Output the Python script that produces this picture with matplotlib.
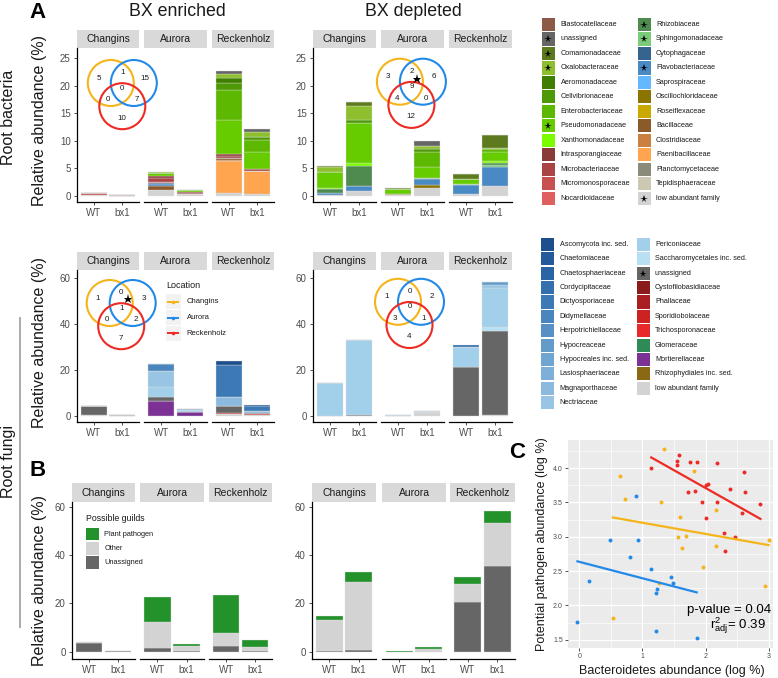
import numpy as np
import matplotlib
matplotlib.use("Agg")
import matplotlib.pyplot as plt
from matplotlib.patches import Rectangle, Circle

plt.rcParams['font.family'] = ['Liberation Sans', 'DejaVu Sans']
plt.rcParams['mathtext.fontset'] = 'custom'
plt.rcParams['mathtext.rm'] = 'Liberation Sans'
plt.rcParams['mathtext.it'] = 'Liberation Sans:italic'

W, H = 778, 678
fig = plt.figure(figsize=(W / 100, H / 100), dpi=100)

# ---------------- data ----------------
locations = ["Changins", "Aurora", "Reckenholz"]
genotypes = ["WT", "bx1"]

bact_families = ["Blastocatellaceae", "unassigned", "Comamonadaceae", "Oxalobacteraceae",
                 "Aeromonadaceae", "Cellvibrionaceae", "Enterobacteriaceae", "Pseudomonadaceae",
                 "Xanthomonadaceae", "Intrasporangiaceae", "Microbacteriaceae", "Micromonosporaceae",
                 "Nocardioidaceae", "Rhizobiaceae", "Sphingomonadaceae", "Cytophagaceae",
                 "Flavobacteriaceae", "Saprospiraceae", "Oscillochloridaceae", "Roseiflexaceae",
                 "Bacillaceae", "Clostridiaceae", "Paenibacillaceae", "Planctomycetaceae",
                 "Tepidisphaeraceae", "low abundant family"]
bact_colors = ["#8E5A48", "#666666", "#5E7A1F", "#8DBF2E", "#3F7F00", "#4E9A06", "#5CB800",
               "#66CC00", "#7CFC00", "#8B3A3A", "#A94545", "#C75050", "#E06060", "#4F8A4F",
               "#7ACB7A", "#35658F", "#4A8AC4", "#63B8FF", "#8B7500", "#C9A800", "#8B5A2B",
               "#C98040", "#FFA54F", "#8B8B7A", "#CDC8B1", "#D3D3D3"]
bact_starred = ["unassigned", "Comamonadaceae", "Oxalobacteraceae", "Pseudomonadaceae",
                "Rhizobiaceae", "Sphingomonadaceae", "Flavobacteriaceae", "low abundant family"]

fungi_families = ["Ascomycota inc. sed.", "Chaetomiaceae", "Chaetosphaeriaceae", "Cordycipitaceae",
                  "Dictyosporiaceae", "Didymellaceae", "Herpotrichiellaceae", "Hypocreaceae",
                  "Hypocreales inc. sed.", "Lasiosphaeriaceae", "Magnaporthaceae", "Nectriaceae",
                  "Periconiaceae", "Saccharomycetales inc. sed.", "unassigned", "Cystofilobasidiaceae",
                  "Phallaceae", "Sporidiobolaceae", "Trichosporonaceae", "Glomeraceae",
                  "Mortierellaceae", "Rhizophydiales inc. sed.", "low abundant family"]
fungi_colors = ["#1F4E8C", "#245A9A", "#2B64A5", "#356FAE", "#3D79B5", "#4A85BD", "#5690C4",
                "#639BCB", "#70A5D1", "#7DAFD8", "#8BBADE", "#98C5E4", "#A2CFEA", "#B8E0F2",
                "#666666", "#8B1A1A", "#AA1E23", "#CC2222", "#E8282A", "#2E8B57", "#7B3294",
                "#8B6914", "#D3D3D3"]
fungi_starred = ["unassigned"]

# bar order: Changins WT, Changins bx1, Aurora WT, Aurora bx1, Reckenholz WT, Reckenholz bx1
bact_enriched = {
    "unassigned":          [0, 0, 0, 0, 0.6, 0.6],
    "Oxalobacteraceae":    [0, 0, 0.1, 0, 0.6, 0.9],
    "Aeromonadaceae":      [0, 0, 0, 0, 1.0, 0],
    "Cellvibrionaceae":    [0, 0, 0, 0, 1.2, 0.5],
    "Enterobacteriaceae":  [0, 0, 0, 0, 5.4, 2.2],
    "Pseudomonadaceae":    [0, 0, 0.6, 0.2, 6.2, 3.2],
    "Intrasporangiaceae":  [0, 0, 0.4, 0.3, 0.3, 0],
    "Microbacteriaceae":   [0, 0, 0.6, 0.2, 0.4, 0.3],
    "Micromonosporaceae":  [0.5, 0.12, 0, 0, 0, 0],
    "Nocardioidaceae":     [0, 0, 0.3, 0, 0, 0],
    "Cytophagaceae":       [0, 0, 0.2, 0, 0, 0],
    "Flavobacteriaceae":   [0, 0, 0.3, 0, 0, 0],
    "Bacillaceae":         [0, 0, 0.8, 0, 0.4, 0],
    "Clostridiaceae":      [0, 0, 0, 0, 0.2, 0],
    "Paenibacillaceae":    [0, 0, 0, 0, 5.7, 4.2],
    "low abundant family": [0.1, 0.03, 1.0, 0.3, 0.6, 0.3],
}
bact_depleted = {
    "unassigned":          [0, 0, 0, 1.0, 0, 0],
    "Comamonadaceae":      [0.3, 0.8, 0.3, 0, 0.9, 2.4],
    "Oxalobacteraceae":    [0.8, 2.5, 0, 0.5, 0, 0.2],
    "Cellvibrionaceae":    [0, 0.6, 0, 0.6, 0, 0],
    "Enterobacteriaceae":  [0, 0, 0, 2.6, 0, 0.6],
    "Pseudomonadaceae":    [3.0, 7.2, 0.8, 2.0, 0.9, 1.5],
    "Xanthomonadaceae":    [0.2, 0.6, 0, 0, 0, 0.5],
    "Rhizobiaceae":        [0.6, 3.6, 0, 0, 0, 0.3],
    "Sphingomonadaceae":   [0, 0, 0, 0.3, 0.2, 0.3],
    "Flavobacteriaceae":   [0.4, 0.9, 0, 1.1, 1.6, 3.5],
    "Oscillochloridaceae": [0, 0, 0.2, 0.5, 0, 0],
    "low abundant family": [0.2, 0.9, 0.2, 1.4, 0.4, 1.8],
}
fungi_enriched = {
    "Ascomycota inc. sed.": [0, 0, 0, 0, 1.6, 0.4],
    "Dictyosporiaceae":     [0, 0, 0, 0, 13.8, 2.3],
    "Didymellaceae":        [0, 0, 3.1, 0, 0, 0],
    "Hypocreaceae":         [0, 0, 0, 0.7, 0, 0],
    "Magnaporthaceae":      [0, 0, 0, 0, 3.8, 0.9],
    "Nectriaceae":          [0, 0, 6.8, 0, 0, 0],
    "Periconiaceae":        [0, 0, 4.3, 0.6, 0, 0],
    "unassigned":           [3.8, 0.4, 1.9, 0.3, 3.0, 0.3],
    "Sporidiobolaceae":     [0, 0, 0, 0, 0.6, 0.5],
    "Mortierellaceae":      [0, 0, 6.5, 1.6, 0, 0],
    "low abundant family":  [0.4, 0, 0, 0, 0.9, 0.5],
}
fungi_depleted = {
    "Cordycipitaceae":             [0, 0, 0, 0, 1.1, 0],
    "Hypocreaceae":                [0, 0, 0, 0, 0, 1.3],
    "Nectriaceae":                 [0, 0, 0, 0, 0, 1.2],
    "Periconiaceae":               [14.5, 32.3, 0.4, 0.6, 8.5, 16.7],
    "Saccharomycetales inc. sed.": [0, 0, 0, 0, 0, 2.0],
    "unassigned":                  [0, 0.5, 0, 0, 21.2, 36.3],
    "low abundant family":         [0, 0, 0, 1.6, 0, 0.5],
}

guild_names = ["Plant pathogen", "Other", "Unassigned"]
guild_colors = ["#23922B", "#D3D3D3", "#666666"]
guild_enriched = {
    "Plant pathogen": [0, 0, 10.1, 0.8, 15.7, 3.0],
    "Other":          [0.2, 0.1, 11.0, 2.0, 5.4, 1.3],
    "Unassigned":     [3.7, 0.3, 1.4, 0.4, 2.5, 0.5],
}
guild_depleted = {
    "Plant pathogen": [1.3, 4.1, 0.2, 0.9, 2.7, 4.7],
    "Other":          [13.0, 28.2, 0.1, 1.0, 7.5, 17.8],
    "Unassigned":     [0.3, 0.6, 0, 0.1, 20.7, 35.5],
}

# Venn counts: C only, C&A, A only, all three, C&R, A&R, R only
venn_bact_enriched = [5, 1, 15, 0, 0, 7, 10]
venn_bact_depleted = [3, 2, 6, 9, 4, 0, 12]
venn_fungi_enriched = [1, 0, 3, 1, 0, 2, 7]
venn_fungi_depleted = [1, 0, 2, 0, 3, 1, 4]

loc_colors = {"Changins": "#F4B41A", "Aurora": "#2389E8", "Reckenholz": "#EE2A24"}

# Panel C data
red_x = [1.14, 1.58, 1.55, 1.55, 1.76, 1.86, 2.18, 2.61, 1.73, 1.83, 2.01, 2.04, 2.39, 2.62,
         1.95, 2.19, 2.58, 2.87, 2.00, 2.29, 2.47, 2.31]
red_y = [4.00, 4.19, 4.10, 4.05, 4.09, 4.09, 4.07, 3.94, 3.65, 3.66, 3.76, 3.77, 3.69, 3.65,
         3.50, 3.50, 3.34, 3.48, 3.28, 3.05, 3.00, 2.80]
orange_x = [1.34, 0.65, 0.73, 1.29, 1.82, 2.17, 1.59, 1.56, 1.69, 1.63, 2.16, 1.96, 3.00, 0.53,
            2.95, 1.27]
orange_y = [4.28, 3.89, 3.55, 3.51, 3.96, 3.39, 3.29, 3.00, 3.01, 2.83, 2.86, 2.56, 2.95, 1.81,
            2.29, 2.32]
blue_x = [-0.03, 0.15, 0.48, 0.90, 0.93, 0.81, 1.13, 1.45, 1.48, 1.23, 1.21, 1.21, 1.86]
blue_y = [1.76, 2.36, 2.95, 3.60, 2.95, 2.70, 2.53, 2.41, 2.33, 2.24, 2.18, 1.63, 1.52]
# fitted lines (intercept, slope)
red_fit = (4.745, -0.517)
orange_fit = (3.368, -0.163)
blue_fit = (2.635, -0.239)

# ---------------- helpers ----------------
def px_axes(x0, y0, x1, y1, **kw):
    return fig.add_axes([x0 / W, 1 - y1 / H, (x1 - x0) / W, (y1 - y0) / H], **kw)

ov = fig.add_axes([0, 0, 1, 1])
ov.set_xlim(0, W)
ov.set_ylim(H, 0)
ov.axis('off')
ov.set_zorder(20)
ov.patch.set_alpha(0)

TXT = "#1A1A1A"
TICKC = "#4D4D4D"


def draw_group(facets, strip_y0, y0, y1, data, families, colors, ylim, yticks):
    cmap = dict(zip(families, colors))
    for i, (x0, x1) in enumerate(facets):
        st = px_axes(x0, strip_y0, x1, y0)
        st.set_facecolor("#D9D9D9")
        st.set_xticks([]); st.set_yticks([])
        for s in st.spines.values():
            s.set_visible(False)
        st.text(0.5, 0.5, locations[i], ha='center', va='center', fontsize=7.5, color=TXT,
                transform=st.transAxes)
        ax = px_axes(x0, y0, x1, y1)
        bottoms = np.zeros(2)
        for fam in reversed(families):
            if fam not in data:
                continue
            v = np.array(data[fam][2 * i:2 * i + 2], dtype=float)
            ax.bar([1, 2], v, 0.9, bottom=bottoms, color=cmap[fam], edgecolor="#E2E2E2",
                   linewidth=0.25)
            bottoms += v
        ax.set_xlim(0.4, 2.6)
        ax.set_ylim(*ylim)
        ax.set_xticks([1, 2])
        ax.set_xticklabels(genotypes)
        ax.set_yticks(yticks)
        ax.spines['top'].set_visible(False)
        ax.spines['right'].set_visible(False)
        ax.spines['bottom'].set_linewidth(0.9)
        ax.spines['left'].set_linewidth(0.9)
        ax.tick_params(length=2.5, width=0.6, color="#333333", labelsize=7, labelcolor=TICKC, pad=2)
        if i > 0:
            ax.spines['left'].set_visible(False)
            ax.tick_params(left=False, labelleft=False)


def draw_venn(mx, my, counts, star=None):
    r = 23
    for (dx, dy), c in zip([(-11.5, 0), (11.5, 0), (0, 23.2)],
                           [loc_colors["Changins"], loc_colors["Aurora"], loc_colors["Reckenholz"]]):
        ov.add_patch(Circle((mx + dx, my + dy), r, fill=False, edgecolor=c, linewidth=1.5))
    offs = [(-23.3, -5), (0, -10.3), (22.8, -5), (0, 5), (-14.5, 16.3), (14.5, 16.3), (0, 35)]
    for (dx, dy), n in zip(offs, counts):
        ov.text(mx + dx, my + dy, str(n), ha='center', va='center', fontsize=5.8, color=TXT)
    if star is not None:
        ov.plot(mx + star[0], my + star[1], marker='*', color='black', ms=6.5, mew=0)


# ---------------- Panel A bacteria ----------------
bact_ylim = (-1.1, 26.8)
draw_group([(77, 139), (144, 207), (212, 274)], 30, 48, 202, bact_enriched,
           bact_families, bact_colors, bact_ylim, [0, 5, 10, 15, 20, 25])
draw_group([(313, 376), (381, 444), (449, 512)], 30, 48, 202, bact_depleted,
           bact_families, bact_colors, bact_ylim, [0, 5, 10, 15, 20, 25])

# ---------------- Panel A fungi ----------------
fungi_ylim = (-2.6, 63.3)
draw_group([(77, 139), (144, 207), (212, 274)], 252, 270, 422, fungi_enriched,
           fungi_families, fungi_colors, fungi_ylim, [0, 20, 40, 60])
draw_group([(313, 376), (381, 444), (449, 512)], 252, 270, 422, fungi_depleted,
           fungi_families, fungi_colors, fungi_ylim, [0, 20, 40, 60])

# ---------------- Panel B guilds ----------------
guild_ylim = (-3.0, 61.9)
draw_group([(72, 135), (140, 204), (209, 272)], 483, 502, 659, guild_enriched,
           guild_names, guild_colors, guild_ylim, [0, 20, 40, 60])
draw_group([(312, 376), (382, 446), (450, 515)], 483, 502, 659, guild_depleted,
           guild_names, guild_colors, guild_ylim, [0, 20, 40, 60])

# Venn diagrams
draw_venn(122.3, 83, venn_bact_enriched)
draw_venn(411.4, 81.7, venn_bact_depleted, star=(5.3, -2.4))
draw_venn(121.2, 303, venn_fungi_enriched, star=(7.1, -3.7))
draw_venn(409.5, 301.8, venn_fungi_depleted)

# Location legend
ov.text(166, 285, "Location", ha='left', va='center', fontsize=6.5, color=TXT)
for k, loc in enumerate(locations):
    yc = 301.7 + k * 15.8
    ov.add_patch(Rectangle((166, yc - 7.5), 15, 15, facecolor="#F2F2F2", edgecolor='none'))
    ov.plot([167.5, 179.5], [yc, yc], color=loc_colors[loc], lw=1.4, solid_capstyle='butt')
    ov.plot([173.5], [yc], marker='o', ms=2.6, color=loc_colors[loc], mew=0)
    ov.text(186.5, yc, loc, ha='left', va='center', fontsize=5.5, color=TXT)

# Guild legend
ov.text(86, 518.7, "Possible guilds", ha='left', va='center', fontsize=6.3, color=TXT)
for k, (g, c) in enumerate(zip(guild_names, guild_colors)):
    yc = 534 + k * 14.3
    ov.add_patch(Rectangle((86, yc - 6.4), 13.3, 12.8, facecolor=c, edgecolor='none'))
    ov.text(104.3, yc, g, ha='left', va='center', fontsize=5.3, color=TXT)

# Family legends
def family_legend(families, colors, starred, y_first, step, ncol1, cols):
    for k, (fam, c) in enumerate(zip(families, colors)):
        col = 0 if k < ncol1 else 1
        row = k if k < ncol1 else k - ncol1
        kx, lx = cols[col]
        yc = y_first + row * step
        ov.add_patch(Rectangle((kx, yc - 6.6), 13.3, 13.2, facecolor=c, edgecolor='none'))
        if fam in starred:
            ov.plot(kx + 6.65, yc + 0.5, marker='*', color='black', ms=5.5, mew=0)
        ov.text(lx, yc, fam, ha='left', va='center', fontsize=5.2, color=TXT)

family_legend(bact_families, bact_colors, bact_starred, 24.5, 14.47, 13,
              [(541.7, 560.5), (637.7, 656)])
family_legend(fungi_families, fungi_colors, fungi_starred, 244.3, 14.4, 12,
              [(541, 559.7), (636.7, 655)])

# ---------------- Panel C ----------------
axC = px_axes(568, 440, 773, 648)
axC.set_facecolor("#EBEBEB")
axC.set_xlim(-0.18, 3.07)
axC.set_ylim(1.38, 4.41)
axC.set_xticks([0, 1, 2, 3])
axC.set_yticks([1.5, 2.0, 2.5, 3.0, 3.5, 4.0])
axC.set_yticklabels(["1.5", "2.0", "2.5", "3.0", "3.5", "4.0"])
axC.set_xticks([0.5, 1.5, 2.5], minor=True)
axC.set_yticks([1.75, 2.25, 2.75, 3.25, 3.75, 4.25], minor=True)
axC.grid(True, which='major', color='white', lw=0.9)
axC.grid(True, which='minor', color='white', lw=0.45)
axC.set_axisbelow(True)
for s in axC.spines.values():
    s.set_visible(False)
axC.tick_params(which='major', length=2.2, width=0.6, color="#333333", labelsize=5,
                labelcolor=TICKC, pad=1.5)
axC.tick_params(which='minor', length=0)
for xs, ys, key in [(blue_x, blue_y, "Aurora"), (orange_x, orange_y, "Changins"),
                    (red_x, red_y, "Reckenholz")]:
    axC.scatter(xs, ys, s=8, color=loc_colors[key], linewidths=0, zorder=3)
for xs, fit, key in [(blue_x, blue_fit, "Aurora"), (orange_x, orange_fit, "Changins"),
                     (red_x, red_fit, "Reckenholz")]:
    lx = np.array([min(xs), max(xs)])
    axC.plot(lx, fit[0] + fit[1] * lx, color=loc_colors[key], lw=1.6, zorder=4)
ov.text(771, 610, "p-value = 0.04", ha='right', va='center', fontsize=9.5, color='black')
ov.text(766, 626, r"$\mathregular{r^2_{adj}}$= 0.39", ha='right', va='center', fontsize=9.5,
        color='black')
ov.text(542, 544, "Potential pathogen abundance (log %)", rotation=90, ha='center', va='center',
        fontsize=9, color=TXT)
ov.text(672, 671, "Bacteroidetes abundance (log %)", ha='center', va='center', fontsize=9,
        color=TXT)

# ---------------- Titles / labels ----------------
ov.text(38, 12, "A", ha='center', va='center', fontsize=16, fontweight='bold')
ov.text(38, 470, "B", ha='center', va='center', fontsize=16, fontweight='bold')
ov.text(517, 452, "C", ha='center', va='center', fontsize=16, fontweight='bold')
ov.text(177, 11, "BX enriched", ha='center', va='center', fontsize=12.8, color=TXT)
ov.text(413, 11, "BX depleted", ha='center', va='center', fontsize=12.8, color=TXT)
ov.text(9, 117, "Root bacteria", rotation=90, ha='center', va='center', fontsize=11.5, color=TXT)
ov.text(9, 462, "Root fungi", rotation=90, ha='center', va='center', fontsize=11.5, color=TXT)
ov.plot([20, 20], [318, 627], color="#AAAAAA", lw=1.4)
for yc in [120, 343, 580]:
    ov.text(40, yc, "Relative abundance (%)", rotation=90, ha='center', va='center',
            fontsize=11.5, color=TXT)

fig.savefig("out.png", dpi=100)
